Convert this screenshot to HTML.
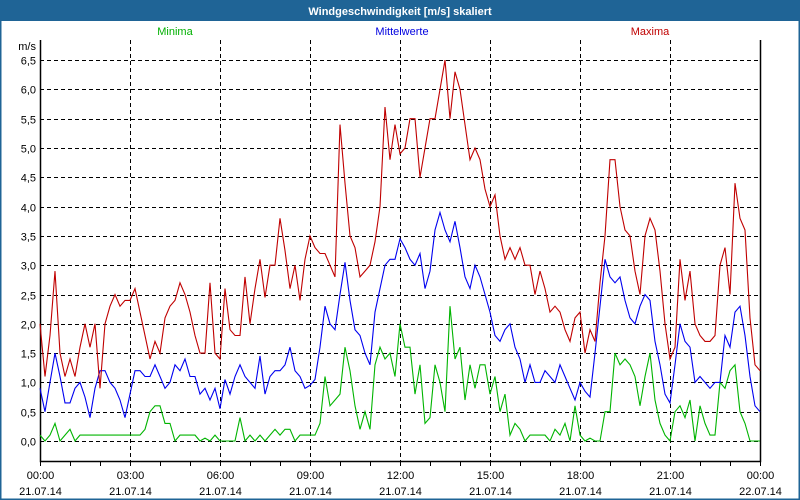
<!DOCTYPE html>
<html><head><meta charset="utf-8"><style>
body{margin:0;background:#fff;}
svg{display:block;font-family:"Liberation Sans","DejaVu Sans",sans-serif;}
</style></head><body>
<svg width="800" height="500" viewBox="0 0 800 500">
<rect x="0" y="0" width="800" height="500" fill="#ffffff" stroke="#1f6496" stroke-width="3"/>
<rect x="0" y="0" width="800" height="21" fill="#1f6496"/>
<text x="400" y="15" text-anchor="middle" fill="#fff" font-size="11" font-weight="bold">Windgeschwindigkeit [m/s] skaliert</text>
<text x="175" y="35" text-anchor="middle" fill="#00b000" font-size="11">Minima</text>
<text x="402" y="35" text-anchor="middle" fill="#0000e0" font-size="11">Mittelwerte</text>
<text x="650" y="35" text-anchor="middle" fill="#c00000" font-size="11">Maxima</text>
<text x="36" y="50" text-anchor="end" font-size="11" fill="#000">m/s</text>
<g id="grid"></g><g id="axes"></g><g id="series"></g>
</svg>
<script>
const yTicks=[0,0.5,1,1.5,2,2.5,3,3.5,4,4.5,5,5.5,6,6.5];
const yTickLabels=["0,0","0,5","1,0","1,5","2,0","2,5","3,0","3,5","4,0","4,5","5,0","5,5","6,0","6,5"];
const xTickHours=[0,3,6,9,12,15,18,21,24];
const xTimeLabels=["00:00","03:00","06:00","09:00","12:00","15:00","18:00","21:00","00:00"];
const xDateLabels=["21.07.14","21.07.14","21.07.14","21.07.14","21.07.14","21.07.14","21.07.14","21.07.14","22.07.14"];
const maxima=[2.0,1.1,1.8,2.9,1.5,1.1,1.4,1.1,1.6,2.0,1.6,2.0,0.9,2.0,2.3,2.5,2.3,2.4,2.4,2.6,2.2,1.8,1.4,1.7,1.5,2.1,2.3,2.4,2.7,2.5,2.2,1.8,1.5,1.5,2.7,1.5,1.4,2.6,1.9,1.8,1.8,2.8,2.0,2.6,3.1,2.45,3.0,3.0,3.8,3.25,2.6,3.0,2.4,3.1,3.5,3.3,3.2,3.2,3.0,2.8,5.4,4.4,3.5,3.3,2.8,2.9,3.0,3.4,4.0,5.7,4.8,5.4,4.9,5.0,5.5,5.5,4.5,5.0,5.5,5.5,6.0,6.5,5.5,6.3,6.0,5.4,4.8,5.0,4.8,4.3,4.0,4.2,3.5,3.1,3.3,3.1,3.3,3.0,3.0,2.5,2.9,2.6,2.2,2.3,2.2,1.9,1.7,2.1,2.2,1.5,1.9,1.7,2.7,3.5,4.8,4.8,4.0,3.6,3.5,2.9,2.5,3.5,3.8,3.6,2.9,2.0,1.4,1.6,3.1,2.4,2.9,2.0,1.8,1.7,1.7,1.8,3.0,3.3,2.5,4.4,3.8,3.6,2.1,1.3,1.2];
const mittelwerte=[0.9,0.5,1.0,1.5,1.1,0.65,0.65,0.9,1.0,0.75,0.4,0.9,1.2,1.2,1.0,0.9,0.7,0.4,0.8,1.2,1.2,1.1,1.1,1.3,1.1,0.9,1.0,1.3,1.2,1.4,1.1,1.1,0.8,0.9,0.7,0.9,0.55,1.05,0.8,1.1,1.3,1.1,1.0,0.9,1.45,0.8,1.1,1.2,1.2,1.3,1.6,1.2,1.1,0.9,0.95,1.05,1.6,2.3,2.0,1.9,2.5,3.05,2.4,1.9,1.8,1.5,1.3,2.2,2.6,3.0,3.1,3.1,3.45,3.3,3.1,3.0,3.2,2.6,2.9,3.6,3.9,3.6,3.4,3.75,3.3,2.8,2.6,3.0,2.8,2.5,2.2,1.8,1.7,1.9,2.0,1.6,1.4,1.0,1.3,1.0,1.0,1.2,1.1,1.0,1.3,1.1,0.9,0.7,1.0,0.85,0.75,1.5,2.3,3.1,2.8,2.7,2.8,2.4,2.1,2.0,2.3,2.5,2.4,1.7,1.3,0.8,0.65,1.3,2.0,1.7,1.6,1.0,1.1,1.0,0.9,1.0,1.0,1.8,1.6,2.2,2.3,1.8,1.1,0.6,0.5];
const minima=[0.1,0.0,0.1,0.3,0.0,0.1,0.2,0.0,0.1,0.1,0.1,0.1,0.1,0.1,0.1,0.1,0.1,0.1,0.1,0.1,0.1,0.2,0.5,0.6,0.6,0.3,0.3,0.0,0.1,0.1,0.1,0.1,0.0,0.05,0.0,0.1,0.0,0.0,0.0,0.0,0.4,0.0,0.1,0.0,0.1,0.0,0.1,0.2,0.1,0.2,0.2,0.0,0.1,0.1,0.1,0.1,0.3,1.1,0.6,0.7,0.8,1.6,1.2,0.6,0.2,0.5,0.2,1.3,1.6,1.4,1.5,1.1,2.0,1.6,1.6,0.8,1.3,0.3,0.4,1.3,1.0,0.5,2.3,1.4,1.6,0.7,1.3,0.9,1.3,1.3,0.8,1.1,0.5,0.8,0.1,0.3,0.2,0.0,0.1,0.1,0.1,0.1,0.0,0.2,0.1,0.3,0.0,0.6,0.1,0.0,0.05,0.0,0.0,0.5,0.5,1.5,1.3,1.4,1.3,1.1,0.6,1.1,1.5,0.7,0.3,0.1,0.0,0.5,0.6,0.4,0.7,0.0,0.6,0.3,0.1,0.1,1.0,0.9,1.2,1.3,0.5,0.3,0.0,0.0,0.0];

const NS="http://www.w3.org/2000/svg";
const X0=40,X1=760,Y0=441,YTOP=40,YBOT=461,PXV=58.6;
const yScale=v=>Y0-v*PXV;
const xHour=h=>X0+h*(X1-X0)/24;
const xIdx=(i,n)=>X0+i*(X1-X0)/(n-1);
function mk(tag,attrs,parent){const e=document.createElementNS(NS,tag);for(const k in attrs)e.setAttribute(k,attrs[k]);parent.appendChild(e);return e;}
const grid=document.getElementById('grid'),axes=document.getElementById('axes'),series=document.getElementById('series');
yTicks.forEach((v,i)=>{
  const y=Math.round(yScale(v))+0.5;
  const l=mk('line',{x1:X0,x2:X1,y1:y,y2:y,stroke:'#000','stroke-dasharray':'4,3','stroke-width':1},grid);
  
  
  const t=mk('text',{x:36,y:y+4,'text-anchor':'end','font-size':11,fill:'#000'},axes);
  t.textContent=yTickLabels[i];
  
  
});
xTickHours.forEach((h,i)=>{
  const x=Math.round(xHour(h))+0.5;
  if(i>0&&i<xTickHours.length-1){
    const l=mk('line',{x1:x,x2:x,y1:YTOP,y2:YBOT,stroke:'#000','stroke-dasharray':'4,3'},grid);
    
    
  }
  const t1=mk('text',{x:x,y:479,'text-anchor':'middle','font-size':11,fill:'#000'},axes);
  t1.textContent=xTimeLabels[i];
  
  
  const t2=mk('text',{x:x,y:495,'text-anchor':'middle','font-size':11,fill:'#000'},axes);
  t2.textContent=xDateLabels[i];
  
  
});
for(let h=0;h<=24;h++){
  const x=Math.round(xHour(h))+0.5;
  const l=mk('line',{x1:x,x2:x,y1:YBOT,y2:YBOT+5,stroke:'#000'},axes);
  
  
}
const ax=mk('path',{d:`M${X0+0.5},${YTOP} V${YBOT+0.5} H${X1+0.5} V${YTOP}`,fill:'none',stroke:'#000','stroke-width':1.5},axes);


function line(arr,color,name){
  const pts=arr.map((v,i)=>xIdx(i,arr.length).toFixed(1)+','+yScale(v).toFixed(1)).join(' ');
  const p=mk('polyline',{points:pts,fill:'none',stroke:color,'stroke-width':1.1},series);
  
  
}
line(minima,'#00b400','series-minima');
line(mittelwerte,'#0000f0','series-mittelwerte');
line(maxima,'#c00000','series-maxima');
</script>
</body></html>
